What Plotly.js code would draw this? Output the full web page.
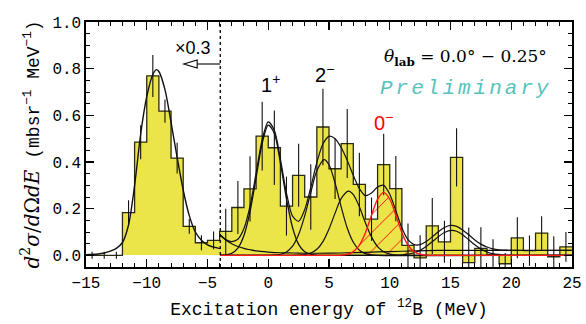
<!DOCTYPE html>
<html>
<head>
<meta charset="utf-8">
<script src="https://cdn.plot.ly/plotly-3.0.1.min.js"></script>
<style>html,body{margin:0;padding:0;background:#fff;} #chart{width:586px;height:324px;}</style>
</head>
<body>
<div id="chart"></div>
<script>
// ---- histogram (1 MeV bins; left part already scaled x0.3) ----
const binCenters = [-14.5,-13.5,-12.5,-11.5,-10.5,-9.5,-8.5,-7.5,-6.5,-5.5,-4.5,
  -3.5,-2.5,-1.5,-0.5,0.5,1.5,2.5,3.5,4.5,5.5,6.5,7.5,8.5,9.5,10.5,11.5,12.5,13.5,14.5,
  15.5,16.5,17.5,18.5,19.5,20.5,21.5,22.5,23.5,24.5];
const binValues = [0.0,0.0,0.0,0.183,0.485,0.769,0.618,0.417,0.124,0.054,0.064,
  0.103,0.205,0.285,0.511,0.461,0.211,0.343,0.25,0.55,0.371,0.479,0.304,0.155,0.389,0.286,0.043,-0.011,0.126,0.058,
  0.42,-0.031,0.03,0.004,-0.036,0.075,0.02,0.095,-0.006,0.036];
const binErrors = [0.015,0.015,0.015,0.053,0.073,0.09,0.05,0.066,0.032,0.032,0.038,
  0.097,0.114,0.14,0.147,0.16,0.126,0.135,0.14,0.164,0.13,0.148,0.136,0.093,0.132,0.14,0.093,0.097,0.12,0.09,
  0.125,0.15,0.09,0.065,0.046,0.088,0.065,0.073,0.088,0.064];

// ---- fit curves ----
const gsX = [-15,-14,-13.5,-13,-12.5,-12,-11.5,-11,-10.5,-10,-9.5,-9.2,-9,-8.5,-8,-7.5,-7,-6.5,-6,-5.5,-5,-4.5,-3.95];
const gsY = [0.003,0.006,0.01,0.018,0.03,0.055,0.13,0.3,0.52,0.68,0.775,0.796,0.788,0.71,0.57,0.42,0.28,0.17,0.1,0.065,0.045,0.035,0.029];

const bgX = [-3.95,-3.5,-3,-2.5,-2,-1.5,-1,0,1,2,3,4,6,8,10,12,14,16,25];
const bgY = [0.086,0.066,0.05,0.038,0.03,0.024,0.019,0.014,0.011,0.01,0.009,0.009,0.01,0.013,0.016,0.019,0.021,0.021,0.021];

const c1pX = [-3.95,-3.5,-3,-2.5,-2,-1.5,-1,-0.5,0,0.5,1,1.5,2,2.5,3,3.5,4,4.5,25];
const c1pY = [0.0004,0.002,0.009,0.031,0.085,0.187,0.333,0.48,0.558,0.523,0.396,0.242,0.119,0.047,0.015,0.004,0.001,0,0];

const c2mX = [-3.95,0.5,1,1.5,2,2.5,3,3.5,4,4.6,5,5.5,6,6.5,7,7.5,8,8.5,9,25];
const c2mY = [0,0.0012,0.0046,0.0146,0.039,0.089,0.169,0.269,0.362,0.41,0.388,0.31,0.208,0.117,0.056,0.022,0.0074,0.002,0,0];

const c66X = [-3.95,2.5,3,3.5,4,4.5,5,5.5,6,6.6,7,7.5,8,8.5,9,9.5,10,10.5,11,25];
const c66Y = [0,0.0008,0.003,0.0098,0.026,0.059,0.113,0.181,0.243,0.275,0.26,0.208,0.139,0.079,0.037,0.015,0.005,0.0014,0,0];

const c0mX = [-3.95,5.5,6,6.5,7,7.5,8,8.5,9,9.5,10,10.5,11,11.5,12,12.5,13,13.5,25];
const c0mY = [0,0,0.001,0.0046,0.0159,0.044,0.097,0.172,0.241,0.27,0.241,0.172,0.097,0.044,0.0159,0.0046,0.001,0,0];

const c15X = [-3.95,10,10.5,11,11.5,12,12.5,13,13.5,14,14.5,15.1,15.5,16,16.5,17,17.5,18,18.5,19,19.5,20,25];
const c15Y = [0,0,0.0007,0.002,0.0049,0.0109,0.0214,0.0375,0.058,0.08,0.098,0.107,0.103,0.088,0.067,0.045,0.027,0.0145,0.0068,0.0029,0.0011,0,0];

const totX = [-3.95,-3.5,-3,-2.5,-2,-1.5,-1,-0.5,0,0.5,1,1.5,2,2.5,3,3.5,4,4.5,5,5.5,6,6.5,7,7.5,8,8.5,9,9.5,10,10.5,11,11.5,12,12.5,13,13.5,14,14.5,15,15.5,16,16.5,17,17.5,18,18.5,19,19.5,20,25];
const totY = [0.087,0.068,0.059,0.069,0.115,0.211,0.352,0.496,0.572,0.536,0.412,0.267,0.168,0.146,0.196,0.292,0.398,0.477,0.51,0.5,0.462,0.407,0.343,0.286,0.256,0.267,0.293,0.3,0.262,0.191,0.117,0.067,0.046,0.046,0.059,0.079,0.101,0.119,0.128,0.124,0.109,0.088,0.066,0.048,0.0355,0.028,0.024,0.022,0.021,0.021];

const xTickLabels = ['−15','−10','−5','0','5','10','15','20','25'];
const xTickVals = [-15,-10,-5,0,5,10,15,20,25];

// step outline derived from the bins
const edgesX = binCenters.map(c => c - 0.5).concat([binCenters[binCenters.length-1] + 0.5]);
const edgesY = binValues.concat([binValues[binValues.length-1]]);

const yellow = '#ECE54A';
const outline = '#2b2b12';
const sp = {shape:'spline', smoothing:0.8};

const traces = [
  {type:'bar', x:binCenters, y:binValues, width:1, marker:{color:yellow, line:{width:0}}, hoverinfo:'skip'},
  {type:'scatter', mode:'lines', x:c0mX, y:c0mY, fill:'tozeroy', fillcolor:'rgba(0,0,0,0)',
    fillpattern:{shape:'/', fgcolor:'#ff0000', bgcolor:'rgba(0,0,0,0)', size:13, solidity:0.07},
    line:{color:'rgba(0,0,0,0)', width:0, shape:'spline', smoothing:0.8}, hoverinfo:'skip'},
  {type:'scatter', mode:'lines', x:edgesX, y:edgesY, line:{color:outline, width:1.3, shape:'hv'}, hoverinfo:'skip'},
  {type:'scatter', mode:'markers', x:binCenters, y:binValues, marker:{size:2, opacity:0},
    error_y:{type:'data', array:binErrors, visible:true, color:'#111', thickness:1.1, width:0}, hoverinfo:'skip'},
  {type:'scatter', mode:'lines', x:gsX, y:gsY, line:Object.assign({color:'#111', width:1.4}, sp)},
  {type:'scatter', mode:'lines', x:bgX, y:bgY, line:Object.assign({color:'#111', width:1.2}, sp)},
  {type:'scatter', mode:'lines', x:c1pX, y:c1pY, line:Object.assign({color:'#111', width:1.3}, sp)},
  {type:'scatter', mode:'lines', x:c2mX, y:c2mY, line:Object.assign({color:'#111', width:1.2}, sp)},
  {type:'scatter', mode:'lines', x:c66X, y:c66Y, line:Object.assign({color:'#111', width:1.2}, sp)},
  {type:'scatter', mode:'lines', x:c15X, y:c15Y, line:Object.assign({color:'#111', width:1.2}, sp)},
  {type:'scatter', mode:'lines', x:totX, y:totY, line:Object.assign({color:'#111', width:1.2}, sp)},
  {type:'scatter', mode:'lines', x:c0mX, y:c0mY, line:Object.assign({color:'#ff1a1a', width:1.4}, sp)}
];

const mono = 'Liberation Mono, Courier New, monospace';
const axisCommon = {
  showline:true, linecolor:'#000', linewidth:1.6, mirror:'allticks',
  ticks:'inside', ticklen:8, tickwidth:1.2, tickcolor:'#000',
  showgrid:false, zeroline:false, fixedrange:true,
  tickfont:{family:mono, size:16, color:'#000'}
};

const layout = {
  width:586, height:324,
  margin:{l:86, r:14, t:22, b:57},
  paper_bgcolor:'#fff', plot_bgcolor:'#fff',
  showlegend:false, bargap:0,
  xaxis: Object.assign({}, axisCommon, {
    range:[-15,25], tickvals:xTickVals, ticktext:xTickLabels,
    minor:{dtick:1, ticks:'inside', ticklen:4, tickwidth:1, tickcolor:'#000'},
    title:{text:'Excitation energy of <sup>12</sup>B (MeV)', font:{family:mono, size:18, color:'#000'}, standoff:10}
  }),
  yaxis: Object.assign({}, axisCommon, {
    range:[-0.05,1.0], dtick:0.2, tick0:0, tickformat:'.1f',
    minor:{dtick:0.05, ticks:'inside', ticklen:4, tickwidth:1, tickcolor:'#000'},
    title:{text:'<span style="font-family:DejaVu Serif;font-size:20px"><i>d</i><sup>2</sup><i>σ</i>/<i>d</i>Ω<i>dE</i></span> (mbsr<sup>−1</sup> MeV<sup>−1</sup>)',
      font:{family:mono, size:18, color:'#000'}, standoff:8}
  }),
  shapes:[
    {type:'line', xref:'x', yref:'paper', x0:-3.95, x1:-3.95, y0:0, y1:1, line:{color:'#000', width:1.3, dash:'dot'}},
    {type:'line', xref:'x', yref:'y', x0:-5.85, x1:-3.95, y0:0.82, y1:0.82, line:{color:'#000', width:1.1}},
    {type:'path', xref:'x', yref:'y', path:'M -6.95,0.82 L -5.85,0.837 L -5.85,0.803 Z', line:{color:'#000', width:1.1}, fillcolor:'#fff'}
  ],
  annotations:[
    {x:-6.2, y:0.89, xref:'x', yref:'y', text:'×0.3', showarrow:false, font:{family:'Liberation Sans, Arial', size:18, color:'#000'}},
    {x:0.2, y:0.735, xref:'x', yref:'y', text:'1<sup>+</sup>', showarrow:false, font:{family:'Liberation Sans, Arial', size:20, color:'#000'}},
    {x:4.6, y:0.78, xref:'x', yref:'y', text:'2<sup>−</sup>', showarrow:false, font:{family:'Liberation Sans, Arial', size:20, color:'#000'}},
    {x:9.5, y:0.575, xref:'x', yref:'y', text:'0<sup>−</sup>', showarrow:false, font:{family:'Liberation Sans, Arial', size:20, color:'#ff0000'}},
    {x:16.2, y:0.85, xref:'x', yref:'y', text:'<i>θ</i><sub><b>lab</b></sub> = 0.0° − 0.25°', showarrow:false, font:{family:'DejaVu Serif', size:17, color:'#000'}},
    {x:16.3, y:0.716, xref:'x', yref:'y', text:'<i><span style="letter-spacing:3px">Preliminary</span></i>', showarrow:false, font:{family:mono, size:21, color:'#55C3BC'}}
  ]
};

Plotly.newPlot('chart', traces, layout, {staticPlot:true, displayModeBar:false});
</script>
</body>
</html>
